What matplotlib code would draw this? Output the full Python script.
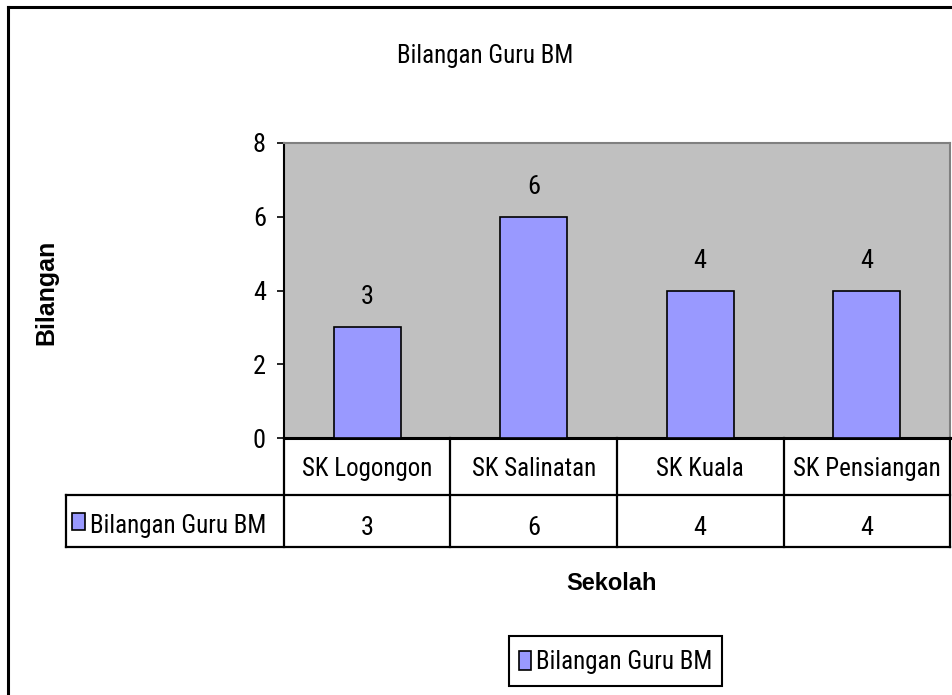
import matplotlib
matplotlib.use("Agg")
import matplotlib.pyplot as plt
from matplotlib import font_manager as fm
from matplotlib.lines import Line2D
from matplotlib.patches import Rectangle
from matplotlib.legend_handler import HandlerPatch
import matplotlib.transforms as mtransforms

# ---------------- data ----------------
title = "Bilangan Guru BM"
categories = ["SK Logongon", "SK Salinatan", "SK Kuala", "SK Pensiangan"]
series_name = "Bilangan Guru BM"
values = [3, 6, 4, 4]
y_ticks = [0, 2, 4, 6, 8]
x_label = "Sekolah"
y_label = "Bilangan"

# ---------------- fonts ----------------
names = {f.name for f in fm.fontManager.ttflist}
NARROW = None
for cand in ["Liberation Sans Narrow", "Arial Narrow", "Roboto Condensed", "Open Sans Condensed"]:
    if cand in names:
        NARROW = cand
        break
if NARROW is not None:
    FS, FSD = 18, 19
else:
    NARROW = "Liberation Sans"
    FS, FSD = 16, 18
BOLD = "Liberation Sans"

W, H = 953, 695
fig = plt.figure(figsize=(W / 100, H / 100), dpi=100)
fig.patch.set_facecolor("white")


def fx(x):
    return x / W


def fy(y):
    return 1 - y / H


def hline(x0, x1, y, lw=1.6, color="black"):
    fig.add_artist(Line2D([fx(x0), fx(x1)], [fy(y), fy(y)], transform=fig.transFigure,
                          color=color, lw=lw, solid_capstyle="projecting"))


def vline(x, y0, y1, lw=1.6, color="black"):
    fig.add_artist(Line2D([fx(x), fx(x)], [fy(y0), fy(y1)], transform=fig.transFigure,
                          color=color, lw=lw, solid_capstyle="projecting"))


# plot area
PL, PR, PT, PB = 284, 950, 143, 438
ax = fig.add_axes([fx(PL), fy(PB), fx(PR) - fx(PL), (PB - PT) / H])
ax.set_facecolor("#C0C0C0")
ax.set_xlim(-0.5, len(categories) - 0.5)
ax.set_ylim(y_ticks[0], y_ticks[-1])

bars = ax.bar(range(len(values)), values, width=0.4, color="#9999FF",
              edgecolor="black", linewidth=1.2, label=series_name, zorder=3)
for i, v in enumerate(values):
    ax.annotate(str(v), xy=(i, v), xytext=(0, 16.5), textcoords="offset points",
                ha="center", va="baseline", fontsize=FSD, family=NARROW)

ax.set_yticks(y_ticks)
ax.set_yticklabels([str(t) for t in y_ticks], fontsize=FSD, family=NARROW)
ax.set_xticks([])
ax.tick_params(axis="y", direction="out", length=5, width=1.2, pad=8, colors="black")
ax.spines["top"].set_color("#808080")
ax.spines["right"].set_color("#808080")
ax.spines["top"].set_linewidth(1.5)
ax.spines["right"].set_linewidth(1.5)
ax.spines["left"].set_linewidth(1.5)
ax.spines["bottom"].set_linewidth(2.2)

# ---------------- data table ----------------
ROW1_BOT, ROW2_BOT, TL = 495, 547, 66
col_edges = [PL + (PR - PL) * k / len(categories) for k in range(len(categories) + 1)]
for xe in col_edges:
    vline(xe, PB, ROW2_BOT)
hline(TL, PR, ROW1_BOT)
hline(TL, PR, ROW2_BOT)
vline(TL, ROW1_BOT, ROW2_BOT)

blend = mtransforms.blended_transform_factory(ax.transData, fig.transFigure)
for i, (c, v) in enumerate(zip(categories, values)):
    fig.text(i, fy(476), c, transform=blend, ha="center", va="baseline",
             fontsize=FS, family=NARROW)
    fig.text(i, fy(535), str(v), transform=blend, ha="center", va="baseline",
             fontsize=FSD, family=NARROW)

fig.add_artist(Rectangle((fx(72), fy(530)), fx(85) - fx(72), (530 - 513) / H,
                         transform=fig.transFigure, facecolor="#9999FF",
                         edgecolor="black", lw=1.2))
fig.text(fx(90), fy(533), series_name, ha="left", va="baseline",
         fontsize=FS, family=NARROW)

# ---------------- titles ----------------
fig.text(fx(485), fy(63), title, ha="center", va="baseline", fontsize=FS, family=NARROW)
fig.text(fx(612), fy(590), x_label, ha="center", va="baseline", fontsize=17,
         family=BOLD, fontweight="bold")
fig.text(fx(46), fy(292), y_label, ha="center", va="center", rotation=90,
         fontsize=18, family=BOLD, fontweight="bold")

# ---------------- legend ----------------
PT2PX = 100 / 72.0


def small_swatch(legend, orig_handle, xdescent, ydescent, width, height, fontsize):
    sw, sh = 12 / PT2PX, 19 / PT2PX
    cy = 0.36 * fontsize
    return Rectangle((-xdescent + (width - sw) / 2, cy - sh / 2), sw, sh)


fs_px = FS * PT2PX
leg = fig.legend(handles=[bars.patches[0]], labels=[series_name], loc="center",
                 bbox_to_anchor=(fx(615.5), fy(661)), frameon=True, fancybox=False,
                 framealpha=1, edgecolor="black",
                 handlelength=13 / fs_px, handleheight=36 / fs_px,
                 handletextpad=4 / fs_px, borderpad=10 / fs_px, borderaxespad=0,
                 handler_map={bars.patches[0]: HandlerPatch(patch_func=small_swatch)},
                 prop={"family": NARROW, "size": FS})
leg.get_frame().set_linewidth(1.5)

# ---------------- outer border ----------------
hline(8, W + 5, 7, lw=2.2)
vline(8, 7, H + 5, lw=2.2)

fig.savefig("out.png", dpi=100, facecolor="white")
